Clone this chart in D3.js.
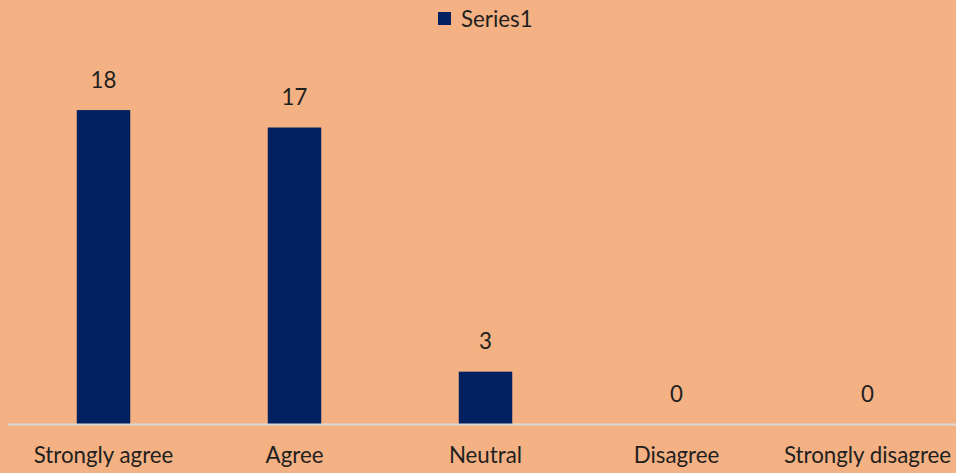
<!DOCTYPE html>
<html><head><meta charset="utf-8">
<script src="https://cdn.jsdelivr.net/npm/d3@7"></script>
<style>html,body{margin:0;padding:0;background:#F4B183;}svg{display:block;}</style>
</head><body>
<script>
const categories = ["Strongly agree","Agree","Neutral","Disagree","Strongly disagree"];
const series1 = [18,17,3,0,0];
const seriesName = "Series1";

const W=956,H=473;
const font="Lato, 'Open Sans', sans-serif";
const fs=22.3;
const svg=d3.select("body").append("svg").attr("width",W).attr("height",H);
svg.append("rect").attr("width",W).attr("height",H).attr("fill","#F4B183");

const x=d3.scaleBand().domain(categories).range([8,963]).paddingInner(0.72).paddingOuter(0.36);
const y=d3.scaleLinear().domain([0,20]).range([424,75.2]);

svg.append("g").selectAll("rect").data(series1).join("rect")
  .attr("x",(d,i)=>x(categories[i])).attr("width",x.bandwidth())
  .attr("y",d=>y(d)).attr("height",d=>y(0)-y(d)).attr("fill","#002060");

svg.append("line").attr("x1",8).attr("x2",W).attr("y1",y(0)+0.5).attr("y2",y(0)+0.5)
  .attr("stroke","#D9D9D9").attr("stroke-width",2);

svg.append("g").selectAll("text").data(series1).join("text")
  .attr("x",(d,i)=>x(categories[i])+x.bandwidth()/2).attr("y",d=>y(d)-22.5)
  .attr("text-anchor","middle").attr("font-family",font).attr("font-size",fs).attr("fill","#1f1f1f")
  .text(d=>d);

const xAxis=d3.axisBottom(x).tickSize(0).tickPadding(0);
const ga=svg.append("g").attr("transform",`translate(0,${y(0)})`).call(xAxis);
ga.select(".domain").remove();
ga.selectAll("text").attr("font-family",font).attr("font-size",fs).attr("fill","#1f1f1f")
  .attr("dy",null).attr("y",39);

const lg=svg.append("g");
lg.append("rect").attr("x",438).attr("y",12).attr("width",13).attr("height",13).attr("fill","#002060");
lg.append("text").attr("x",461).attr("y",27).attr("font-family",font).attr("font-size",fs).attr("fill","#1f1f1f").text(seriesName);
</script>
</body></html>
